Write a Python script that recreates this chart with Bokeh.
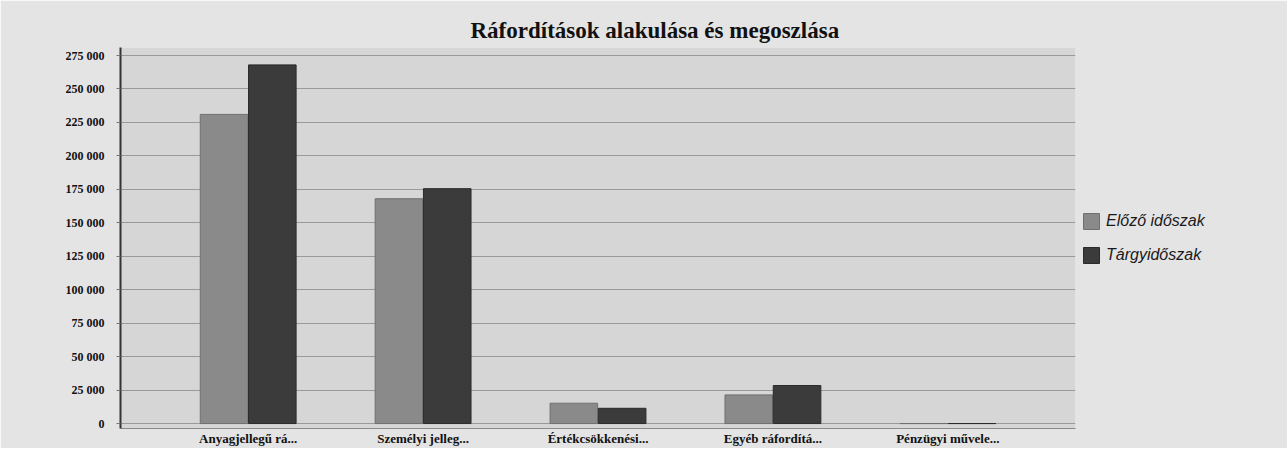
from bokeh.plotting import figure
from bokeh.models import ColumnDataSource, FactorRange, FixedTicker, Legend, LegendItem
from bokeh.transform import dodge
from bokeh.embed import file_html
from bokeh.resources import INLINE

categories = ["Anyagjellegű rá...", "Személyi jelleg...", "Értékcsökkenési...",
              "Egyéb ráfordítá...", "Pénzügyi művele..."]
elozo = [231000, 168000, 15200, 21400, 0]
targy = [268000, 175500, 11400, 28400, 0]
series_names = ["Előző időszak", "Tárgyidőszak"]
y_ticks = list(range(0, 275001, 25000))
y_labels = {t: f"{t:,}".replace(",", " ") for t in y_ticks}

src = ColumnDataSource(dict(cat=categories, elozo=elozo, targy=targy))

p = figure(x_range=FactorRange(*categories, range_padding=0.092),
           y_range=(-3700, 281000),
           width=1270, frame_width=955, frame_height=381,
           min_border_left=120, min_border_top=47, min_border_right=10,
           min_border_bottom=0,
           output_backend="svg", toolbar_location=None,
           background_fill_color="#d6d6d6", border_fill_color="#e4e4e4")

p.title.text = "Ráfordítások alakulása és megoszlása"
p.title.text_font = "Liberation Serif"
p.title.text_font_style = "bold"
p.title.text_font_size = "23px"
p.title.align = "left"
p.title.offset = 350
p.title.text_color = "#111111"

r1 = p.vbar(x=dodge("cat", -0.138, range=p.x_range), top="elozo", width=0.272,
            source=src, fill_color="#8a8a8a", line_color="#707070", line_width=1)
r2 = p.vbar(x=dodge("cat", 0.138, range=p.x_range), top="targy", width=0.272,
            source=src, fill_color="#3b3b3b", line_color="#2a2a2a", line_width=1)

legend = Legend(items=[LegendItem(label=series_names[0], renderers=[r1]),
                       LegendItem(label=series_names[1], renderers=[r2])],
                location="center_left")
legend.label_text_font = "Liberation Sans"
legend.label_text_font_style = "italic"
legend.label_text_font_size = "16px"
legend.label_text_color = "#1a1a1a"
legend.glyph_width = 20
legend.glyph_height = 20
legend.spacing = 14
legend.background_fill_alpha = 0
legend.border_line_alpha = 0
legend.margin = 0
legend.padding = 6
p.add_layout(legend, "right")

p.yaxis.ticker = FixedTicker(ticks=y_ticks)
p.yaxis.major_label_overrides = y_labels
p.yaxis.major_label_text_font = "Liberation Serif"
p.yaxis.major_label_text_font_style = "bold"
p.yaxis.major_label_text_font_size = "12px"
p.yaxis.major_label_text_color = "#111111"
p.yaxis.axis_line_color = "#333333"
p.yaxis.axis_line_width = 2
p.yaxis.major_tick_line_color = "#777777"
p.yaxis.major_tick_out = 4
p.yaxis.major_tick_in = 0
p.yaxis.major_label_standoff = 12
p.yaxis.minor_tick_line_color = None

p.xaxis.major_label_text_font = "Liberation Serif"
p.xaxis.major_label_text_font_style = "bold"
p.xaxis.major_label_text_font_size = "13px"
p.xaxis.major_label_text_color = "#111111"
p.xaxis.axis_line_color = "#8a8a8a"
p.xaxis.major_tick_line_color = None
p.xaxis.major_tick_out = 0
p.xaxis.major_label_standoff = 2

p.xgrid.grid_line_color = None
p.ygrid.grid_line_color = "#9a9a9a"
p.ygrid.grid_line_width = 1
p.outline_line_color = None

open("out.html", "w").write(file_html(p, INLINE))
